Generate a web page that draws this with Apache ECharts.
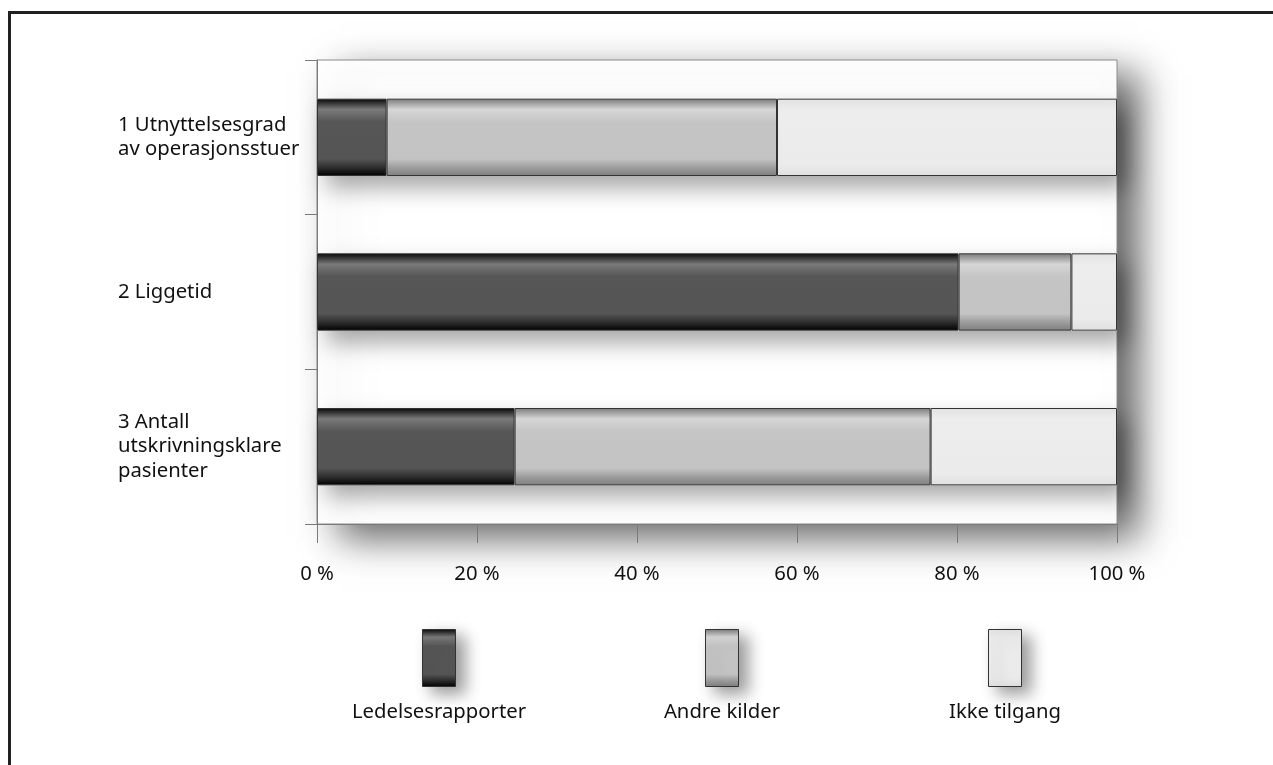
<!DOCTYPE html>
<html>
<head>
<meta charset="utf-8">
<script src="https://cdn.jsdelivr.net/npm/echarts@6/dist/echarts.min.js"></script>
<style>
  html, body { margin: 0; padding: 0; background: #fff; }
  #chart { width: 1273px; height: 765px; }
  #frame {
    position: absolute; left: 8px; top: 11px; right: 0; bottom: 0;
    border-left: 3px solid #231f20; border-top: 3px solid #231f20;
    pointer-events: none;
  }
</style>
</head>
<body>
<div id="chart"></div>
<div id="frame"></div>
<script>
// Source categories (one per bar)
const categories = [
  '1 Utnyttelsesgrad\nav operasjonsstuer',
  '2 Liggetid',
  '3 Antall\nutskrivningsklare\npasienter'
];
// Share of each source, in percent
const ledelsesrapporter = [8.7, 80.2, 24.7];
const andreKilder       = [48.8, 14.1, 52.0];
const ikkeTilgang       = [42.5, 5.7, 23.3];
const seriesNames = ['Ledelsesrapporter', 'Andre kilder', 'Ikke tilgang'];
const xTicks = [0, 20, 40, 60, 80, 100];

const totals = categories.map((_, i) => ledelsesrapporter[i] + andreKilder[i] + ikkeTilgang[i]);

const FONT = '"Noto Sans", "DejaVu Sans", sans-serif';
const FS = 20.3;

function vGrad(stops) {
  return new echarts.graphic.LinearGradient(0, 0, 0, 1,
    stops.map(s => ({ offset: s[0], color: s[1] })));
}
// horizontal bars: gradient runs across the bar thickness (top to bottom)
const darkFill  = vGrad([[0, '#050505'], [0.14, '#7a7a7a'], [0.3, '#565656'], [0.78, '#555555'], [0.9, '#2a2a2a'], [1, '#000000']]);
const midFill   = vGrad([[0, '#7a7a7a'], [0.14, '#d6d6d6'], [0.3, '#c5c5c5'], [0.78, '#c3c3c3'], [0.9, '#9a9a9a'], [1, '#7e7e7e']]);
const lightFill = vGrad([[0, '#e2e2e2'], [0.15, '#ededed'], [0.85, '#ebebeb'], [1, '#e0e0e0']]);
const fills = [darkFill, midFill, lightFill];
const values = [ledelsesrapporter, andreKilder, ikkeTilgang];

const chart = echarts.init(document.getElementById('chart'), null, { renderer: 'canvas' });

const legendLeft = [422, 705, 988];
const legendItemStyle = {
  shadowBlur: 16, shadowColor: 'rgba(0,0,0,0.4)', shadowOffsetX: 9, shadowOffsetY: 7,
  borderColor: '#333', borderWidth: 1
};

const option = {
  animation: false,
  backgroundColor: '#fff',
  textStyle: { fontFamily: FONT },
  grid: {
    left: 317, right: 156, top: 60, bottom: 241,
    show: true, backgroundColor: '#fff', borderColor: '#8a8a8a', borderWidth: 1,
    shadowBlur: 36, shadowColor: 'rgba(0,0,0,0.6)', shadowOffsetX: 22, shadowOffsetY: 14
  },
  xAxis: {
    type: 'value', min: 0, max: 100, interval: 20,
    axisLine: { show: true, lineStyle: { color: '#7a7a7a', width: 1 } },
    axisTick: { show: true, length: 19, lineStyle: { color: '#7a7a7a' } },
    splitLine: { show: false },
    axisLabel: {
      margin: 40, color: '#111', fontSize: FS, fontFamily: FONT,
      formatter: v => (xTicks.includes(v) ? v + ' %' : '')
    }
  },
  yAxis: {
    type: 'category', data: categories, inverse: true,
    axisLine: { show: true, lineStyle: { color: '#7a7a7a', width: 1 } },
    axisTick: { show: true, length: 12, lineStyle: { color: '#7a7a7a' } },
    axisLabel: {
      align: 'left', margin: 199, color: '#111', fontSize: FS, lineHeight: 24.5, fontFamily: FONT
    }
  },
  legend: seriesNames.map((name, i) => ({
    data: [name], left: legendLeft[i], top: 629, padding: 0,
    orient: 'horizontal', icon: 'rect', itemWidth: 33, itemHeight: 57,
    formatter: () => '', selectedMode: false,
    itemStyle: legendItemStyle
  })),
  graphic: seriesNames.map((name, i) => ({
    type: 'text', x: legendLeft[i] + 17, y: 712,
    style: { text: name, textAlign: 'center', textVerticalAlign: 'middle', fill: '#111', fontSize: FS, fontFamily: FONT }
  })),
  series: [
    {
      // soft drop shadow under each full bar
      type: 'bar', name: '_shadow', data: totals, barWidth: '50%', barGap: '-100%',
      silent: true, z: 1,
      itemStyle: { color: '#fff', shadowBlur: 22, shadowColor: 'rgba(0,0,0,0.35)', shadowOffsetX: 10, shadowOffsetY: 12 }
    }
  ].concat(seriesNames.map((name, i) => ({
    type: 'bar', name, stack: 'total', data: values[i], barWidth: '50%', z: 2,
    itemStyle: { color: fills[i], borderColor: '#333', borderWidth: 1 }
  })))
};

chart.setOption(option);
</script>
</body>
</html>
